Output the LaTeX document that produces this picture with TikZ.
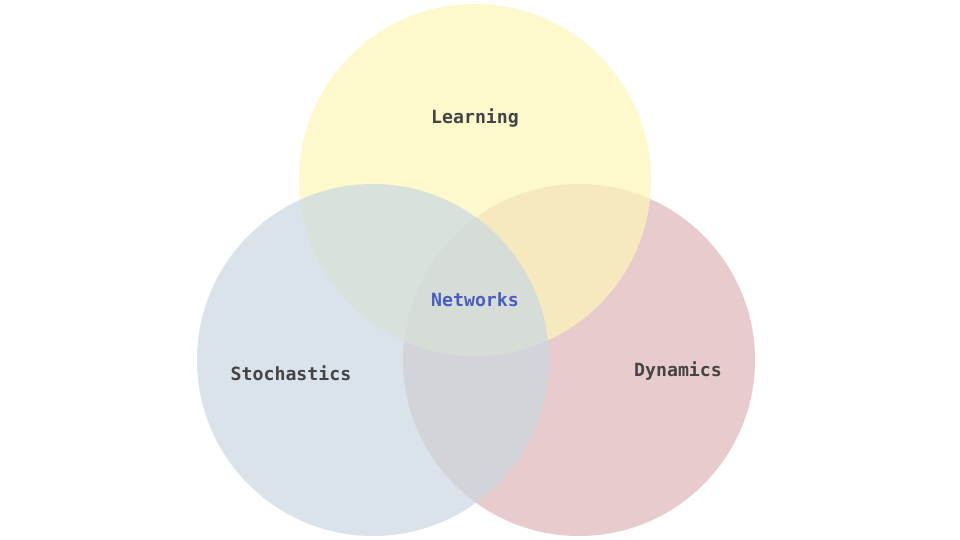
\documentclass[tikz,border=0pt]{standalone}
\usepackage{fontspec}
\setmonofont{DejaVu Sans Mono}
\definecolor{cyel}{RGB}{253,247,184}
\definecolor{cblu}{RGB}{201,216,225}
\definecolor{cpnk}{RGB}{223,181,183}
\definecolor{ctxt}{RGB}{68,68,68}
\definecolor{cnet}{RGB}{74,91,196}
\tikzset{
  venn/.style={draw=none, fill opacity=0.7},
  lbl/.style={font=\ttfamily\bfseries\fontsize{18.2}{20}\selectfont, text=ctxt, inner sep=0pt},
}
\begin{document}
\begin{tikzpicture}[x=1pt,y=-1pt]
\useasboundingbox (0,0) rectangle (960,540);
\fill[white] (0,0) rectangle (960,540);
\path[venn, fill=cpnk] (579,360) circle (176);
\path[venn, fill=cyel] (475,180) circle (176);
\path[venn, fill=cblu] (373,360) circle (176);
\node[lbl] (learn) at (475,118) {Learning};
\node[lbl, text=cnet] (net) at (475,300) {Networks};
\node[lbl] (stoch) at (291,373) {Stochastics};
\node[lbl] (dyn) at (678,371) {Dynamics};
\end{tikzpicture}
\end{document}
